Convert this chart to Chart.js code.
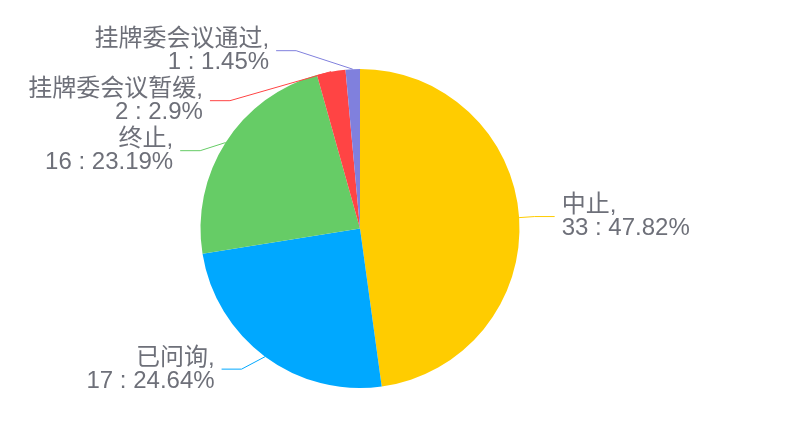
<!DOCTYPE html>
<html>
<head>
<meta charset="utf-8">
<script src="https://cdn.jsdelivr.net/npm/chart.js@4"></script>
<style>
  html, body { margin: 0; padding: 0; background: #fff; }
  #wrap { width: 800px; height: 431px; }
</style>
</head>
<body>
<div id="wrap"><canvas id="pie"></canvas></div>
<script>
// data
const categories = ["中止", "已问询", "终止", "挂牌委会议暂缓", "挂牌委会议通过"];
const counts = [33, 17, 16, 2, 1];
const percents = ["47.82%", "24.64%", "23.19%", "2.9%", "1.45%"];
const colors = ["#FFCC00", "#00A8FF", "#66CC66", "#FF4444", "#8080DD"];

const FONT = '24px "Liberation Sans", "Noto Sans CJK SC", sans-serif';
const TEXT_COLOR = "#6E7079";

// outside labels with elbow leader lines
const labelPlugin = {
  id: 'pieLabels',
  afterDraw(chart) {
    const ctx = chart.ctx;
    const arcs = chart.getDatasetMeta(0).data;
    const rA = 175, rB = 191, len2 = 20, gap = 7, minGap = 50;

    const items = arcs.map((arc, i) => {
      const mid = (arc.startAngle + arc.endAngle) / 2;
      const r = arc.outerRadius;
      return {
        i, cx: arc.x, cy: arc.y,
        ex: arc.x + Math.cos(mid) * r,
        ey: arc.y + Math.sin(mid) * r,
        y: arc.y + Math.sin(mid) * rA,
        right: Math.cos(mid) >= 0
      };
    });

    // push labels apart on each side
    [true, false].forEach(side => {
      const list = items.filter(it => it.right === side).sort((a, b) => a.y - b.y);
      if (!side && list.length) list[0].y -= 3;
      for (let k = 1; k < list.length; k++) {
        if (list[k].y - list[k - 1].y < minGap) list[k].y = list[k - 1].y + minGap;
      }
    });

    ctx.save();
    ctx.font = FONT;
    ctx.lineWidth = 1;
    items.forEach(it => {
      const dy = it.y - it.cy;
      const dx = Math.sqrt(Math.max(0, 1 - (dy * dy) / (rB * rB))) * rA;
      const bx = it.cx + (it.right ? dx : -dx);
      const tx = bx + (it.right ? len2 : -len2);

      ctx.strokeStyle = colors[it.i];
      ctx.beginPath();
      ctx.moveTo(it.ex, it.ey);
      ctx.lineTo(bx, it.y);
      ctx.lineTo(tx, it.y);
      ctx.stroke();

      ctx.fillStyle = TEXT_COLOR;
      ctx.textAlign = it.right ? 'left' : 'right';
      ctx.textBaseline = 'middle';
      const lx = tx + (it.right ? gap : -gap);
      ctx.fillText(categories[it.i] + ",", lx, it.y - 11);
      ctx.fillText(counts[it.i] + " : " + percents[it.i], lx, it.y + 12);
    });
    ctx.restore();
  }
};

new Chart(document.getElementById('pie'), {
  type: 'pie',
  data: {
    labels: categories,
    datasets: [{
      data: counts,
      backgroundColor: colors,
      borderWidth: 0
    }]
  },
  options: {
    responsive: true,
    maintainAspectRatio: false,
    animation: false,
    layout: { padding: { top: 69, bottom: 43, left: 0, right: 80 } },
    plugins: {
      legend: { display: false },
      tooltip: { enabled: false }
    }
  },
  plugins: [labelPlugin]
});
</script>
</body>
</html>
